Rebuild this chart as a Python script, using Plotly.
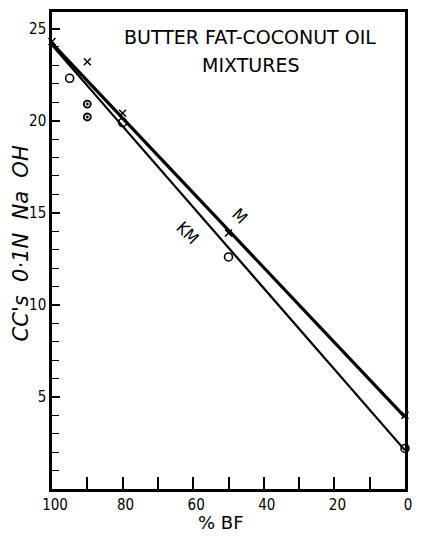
import plotly.graph_objects as go

# Data
line_x = [100, 0]
m_line_y = [24.2, 3.9]
km_line_y = [24.1, 2.1]

m_pts_x = [100, 90, 80, 50, 0]
m_pts_y = [24.3, 23.2, 20.4, 13.9, 4.0]

km_pts_x = [95, 80, 50, 0]
km_pts_y = [22.3, 19.9, 12.6, 2.2]

km_dot_x = [90, 90]
km_dot_y = [20.9, 20.2]

x_ticks = [100, 80, 60, 40, 20, 0]
y_ticks = [5, 10, 15, 20, 25]

FONT = "DejaVu Sans Condensed, DejaVu Sans, sans-serif"
WIDE = "DejaVu Sans, sans-serif"
SP = "\u00a0"

fig = go.Figure()
fig.add_trace(go.Scatter(x=line_x, y=m_line_y, mode="lines",
                         line=dict(color="black", width=3.2), showlegend=False))
fig.add_trace(go.Scatter(x=line_x, y=km_line_y, mode="lines",
                         line=dict(color="black", width=2.2), showlegend=False))
fig.add_trace(go.Scatter(x=m_pts_x, y=m_pts_y, mode="markers",
                         marker=dict(symbol="x-thin-open", size=7, color="black",
                                     line=dict(width=1.5, color="black")),
                         showlegend=False, cliponaxis=False))
fig.add_trace(go.Scatter(x=km_pts_x, y=km_pts_y, mode="markers",
                         marker=dict(symbol="circle-open", size=8, color="black",
                                     line=dict(width=1.6, color="black")),
                         showlegend=False, cliponaxis=False))
fig.add_trace(go.Scatter(x=km_dot_x, y=km_dot_y, mode="markers",
                         marker=dict(symbol="circle-open-dot", size=7, color="black",
                                     line=dict(width=1.8, color="black")),
                         showlegend=False))

fig.add_annotation(x=0.562, y=0.948, xref="paper", yref="paper",
                   text="BUTTER FAT-COCONUT OIL", showarrow=False,
                   font=dict(family=WIDE, size=19, color="black"),
                   xanchor="center", yanchor="middle")
fig.add_annotation(x=0.562, y=0.889, xref="paper", yref="paper",
                   text="MIXTURES", showarrow=False,
                   font=dict(family=WIDE, size=19, color="black"),
                   xanchor="center", yanchor="middle")
fig.add_annotation(x=46.8, y=14.8, text="M", showarrow=False, textangle=45,
                   font=dict(family=FONT, size=17, color="black"))
fig.add_annotation(x=61.5, y=13.9, text="KM", showarrow=False, textangle=45,
                   font=dict(family=FONT, size=17, color="black"))

# axis titles
ytitle = "<i>CC's" + SP * 2 + "0·1N" + SP * 2 + "Na" + SP * 2 + "OH</i>"
fig.add_annotation(x=-0.089, y=0.514, xref="paper", yref="paper",
                   text=ytitle, showarrow=False, textangle=-90,
                   font=dict(family=WIDE, size=21, color="black"),
                   xanchor="center", yanchor="middle")
fig.add_annotation(x=0.48, y=-0.071, xref="paper", yref="paper",
                   text="%" + SP + "BF", showarrow=False,
                   font=dict(family=WIDE, size=18, color="black"),
                   xanchor="center", yanchor="middle")

fig.update_xaxes(range=[100, 0], tickvals=x_ticks, ticks="inside", ticklen=12,
                 tickwidth=1.5, tickcolor="black", ticklabelshift=-3,
                 minor=dict(dtick=10, ticks="inside", ticklen=12, tickwidth=1.5,
                            tickcolor="black"),
                 showline=True, linewidth=2.5, linecolor="black", mirror=True,
                 showgrid=False, zeroline=False,
                 tickfont=dict(family=FONT, size=15, color="black"))
fig.update_yaxes(range=[0, 25.9], tickvals=y_ticks, ticks="inside", ticklen=8,
                 tickwidth=1.5, tickcolor="black",
                 minor=dict(dtick=1, ticks="inside", ticklen=7, tickwidth=1.2,
                            tickcolor="black"),
                 showline=True, linewidth=2.5, linecolor="black", mirror=True,
                 showgrid=False, zeroline=False,
                 tickfont=dict(family=FONT, size=15, color="black"))

fig.update_layout(width=421, height=536,
                  margin=dict(l=52, r=9, t=12, b=47),
                  paper_bgcolor="white", plot_bgcolor="white")

fig.write_html("out.html", config={"displayModeBar": False},
               post_script="document.body.style.margin='0';document.body.style.overflow='hidden';")
